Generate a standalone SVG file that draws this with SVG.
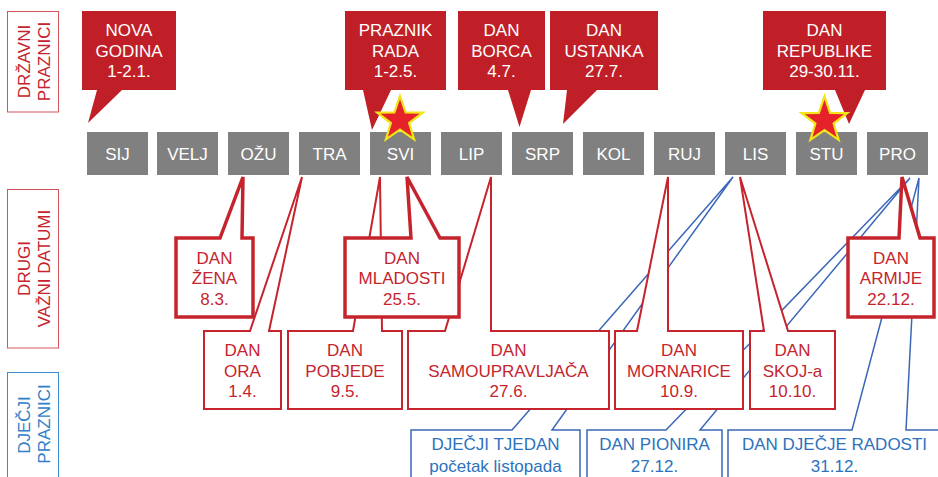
<svg xmlns="http://www.w3.org/2000/svg" width="938" height="477" viewBox="0 0 938 477">
<style>
text{font-family:"Liberation Sans",Arial,sans-serif;font-size:17px;text-anchor:middle}
.month rect{fill:#808080}
.month text{fill:#fff}
.top path{fill:#c11f27}
.top text{fill:#fff}
.red path{fill:#fff;stroke:#c6242d;stroke-width:2}
.red.thick path{stroke-width:3.5}
.red text{fill:#c6242d}
.blue path{fill:#fff;stroke:#3a67b7;stroke-width:1.5}
.blue text{fill:#2c72be}
.star{fill:#e5212a;stroke:#f2e416;stroke-width:2.2}
</style>
<g id="label-drzavni">
<rect x="7.5" y="11.5" width="51" height="100.5" fill="#fff" stroke="#d4545c" stroke-width="1"/>
<text transform="translate(30,61.5) rotate(-90)" fill="#c6242d">DRŽAVNI</text>
<text transform="translate(49.5,61.5) rotate(-90)" fill="#c6242d">PRAZNICI</text>
</g>
<g id="label-drugi">
<rect x="7.5" y="189.5" width="51" height="158.5" fill="#fff" stroke="#d4545c" stroke-width="1"/>
<text transform="translate(30,268.5) rotate(-90)" fill="#c6242d">DRUGI</text>
<text transform="translate(49.5,268.5) rotate(-90)" fill="#c6242d">VAŽNI DATUMI</text>
</g>
<g id="label-djecji">
<rect x="7.5" y="372.5" width="51" height="110" fill="#fff" stroke="#3c8bd0" stroke-width="1"/>
<text transform="translate(30,425) rotate(-90)" fill="#2f80c8">DJEČJI</text>
<text transform="translate(49.5,424) rotate(-90)" fill="#2f80c8">PRAZNICI</text>
</g>
<g id="months" class="month">
<g id="m-sij"><rect x="87" y="132" width="61" height="43"/><text x="117.5" y="159.5">SIJ</text></g>
<g id="m-velj"><rect x="157" y="132" width="61" height="43"/><text x="187.5" y="159.5">VELJ</text></g>
<g id="m-ozu"><rect x="228" y="132" width="61" height="43"/><text x="258.5" y="159.5">OŽU</text></g>
<g id="m-tra"><rect x="299" y="132" width="61" height="43"/><text x="329.5" y="159.5">TRA</text></g>
<g id="m-svi"><rect x="370" y="132" width="61" height="43"/><text x="400.5" y="159.5">SVI</text></g>
<g id="m-lip"><rect x="441" y="132" width="61" height="43"/><text x="471.5" y="159.5">LIP</text></g>
<g id="m-srp"><rect x="512" y="132" width="61" height="43"/><text x="542.5" y="159.5">SRP</text></g>
<g id="m-kol"><rect x="583" y="132" width="61" height="43"/><text x="613.5" y="159.5">KOL</text></g>
<g id="m-ruj"><rect x="654" y="132" width="61" height="43"/><text x="684.5" y="159.5">RUJ</text></g>
<g id="m-lis"><rect x="725" y="132" width="61" height="43"/><text x="755.5" y="159.5">LIS</text></g>
<g id="m-stu"><rect x="796" y="132" width="61" height="43"/><text x="826.5" y="159.5">STU</text></g>
<g id="m-pro"><rect x="867" y="132" width="61" height="43"/><text x="897.5" y="159.5">PRO</text></g>
</g>
<g id="nova-godina" class="top">
<path d="M82,11 H176 V90 H122 L88,123 L97,90 H82 Z"/>
<text x="129" y="36">NOVA</text><text x="129" y="56.5">GODINA</text><text x="129" y="77">1-2.1.</text>
</g>
<g id="praznik-rada" class="top">
<path d="M345,11 H446 V90 H391 L372,130 L363,90 H345 Z"/>
<text x="395.5" y="36">PRAZNIK</text><text x="395.5" y="56.5">RADA</text><text x="395.5" y="77">1-2.5.</text>
</g>
<g id="dan-borca" class="top">
<path d="M458,11 H545 V90 H531 L519.5,127 L508,90 H458 Z"/>
<text x="501.5" y="36">DAN</text><text x="501.5" y="56.5">BORCA</text><text x="501.5" y="77">4.7.</text>
</g>
<g id="dan-ustanka" class="top">
<path d="M550,11 H658 V90 H597 L563,124 L567,90 H550 Z"/>
<text x="604" y="36">DAN</text><text x="604" y="56.5">USTANKA</text><text x="604" y="77">27.7.</text>
</g>
<g id="dan-republike" class="top">
<path d="M763,11 H886 V90 H865 L849,124 L835,90 H763 Z"/>
<text x="824.5" y="36">DAN</text><text x="824.5" y="56.5">REPUBLIKE</text><text x="824.5" y="77">29-30.11.</text>
</g>
<g id="stars">
<polygon class="star" transform="translate(400,120)" points="0,-24 5.6,-7.7 22.8,-7.4 9.1,3 14.1,19.4 0,9.6 -14.1,19.4 -9.1,3 -22.8,-7.4 -5.6,-7.7"/>
<polygon class="star" transform="translate(824.5,120.5)" points="0,-24 5.6,-7.7 22.8,-7.4 9.1,3 14.1,19.4 0,9.6 -14.1,19.4 -9.1,3 -22.8,-7.4 -5.6,-7.7"/>
</g>
<g id="connectors"></g>
<g id="djecji-tjedan" class="blue">
<path d="M411,490 V430 H512 L733,177 L552,430 H580 V490"/>
<text x="495.5" y="450">DJEČJI TJEDAN</text><text x="495.5" y="471.5">početak listopada</text>
</g>
<g id="dan-pionira" class="blue">
<path d="M587,490 V430 H666 L910,178 L700,430 H722 V490"/>
<text x="654.5" y="450">DAN PIONIRA</text><text x="654.5" y="471.5">27.12.</text>
</g>
<g id="dan-djecje-radosti" class="blue">
<path d="M728,490 V430 H852 L919,178 L906,430 H945 V490"/>
<text x="834.5" y="450">DAN DJEČJE RADOSTI</text><text x="834.5" y="471.5">31.12.</text>
</g>
<g id="dan-ora" class="red">
<path d="M204,331 H250 L302,177 L269,331 H281 V409 H204 Z"/>
<text x="242.5" y="356">DAN</text><text x="242.5" y="377">ORA</text><text x="242.5" y="397">1.4.</text>
</g>
<g id="dan-pobjede" class="red">
<path d="M288,331 H353 L380,177 L382,331 H402 V409 H288 Z"/>
<text x="345" y="356">DAN</text><text x="345" y="377">POBJEDE</text><text x="345" y="397">9.5.</text>
</g>
<g id="dan-samoupravljaca" class="red">
<path d="M408,331 H445 L491,177 V331 H609 V409 H408 Z"/>
<text x="508.5" y="356">DAN</text><text x="508.5" y="377">SAMOUPRAVLJAČA</text><text x="508.5" y="397">27.6.</text>
</g>
<g id="dan-mornarice" class="red">
<path d="M615,331 H637 L668,177 V331 H743 V409 H615 Z"/>
<text x="679" y="356">DAN</text><text x="679" y="377">MORNARICE</text><text x="679" y="397">10.9.</text>
</g>
<g id="dan-skoja" class="red">
<path d="M750,331 H764 L740,177 L788,331 H835 V409 H750 Z"/>
<text x="792.5" y="356">DAN</text><text x="792.5" y="377">SKOJ-a</text><text x="792.5" y="397">10.10.</text>
</g>
<g id="dan-zena" class="red thick">
<path d="M176,238 H220 L243,177 L242,238 H253 V317 H176 Z"/>
<text x="214.5" y="263.5">DAN</text><text x="214.5" y="284">ŽENA</text><text x="214.5" y="304.5">8.3.</text>
</g>
<g id="dan-mladosti" class="red thick">
<path d="M345,238 H411 L407,177 L440,238 H459 V317 H345 Z"/>
<text x="402" y="263.5">DAN</text><text x="402" y="284">MLADOSTI</text><text x="402" y="304.5">25.5.</text>
</g>
<g id="dan-armije" class="red thick">
<path d="M848,238 H899 L902,177 L920,238 H934 V317 H848 Z"/>
<text x="891" y="263.5">DAN</text><text x="891" y="284">ARMIJE</text><text x="891" y="304.5">22.12.</text>
</g>
</svg>
